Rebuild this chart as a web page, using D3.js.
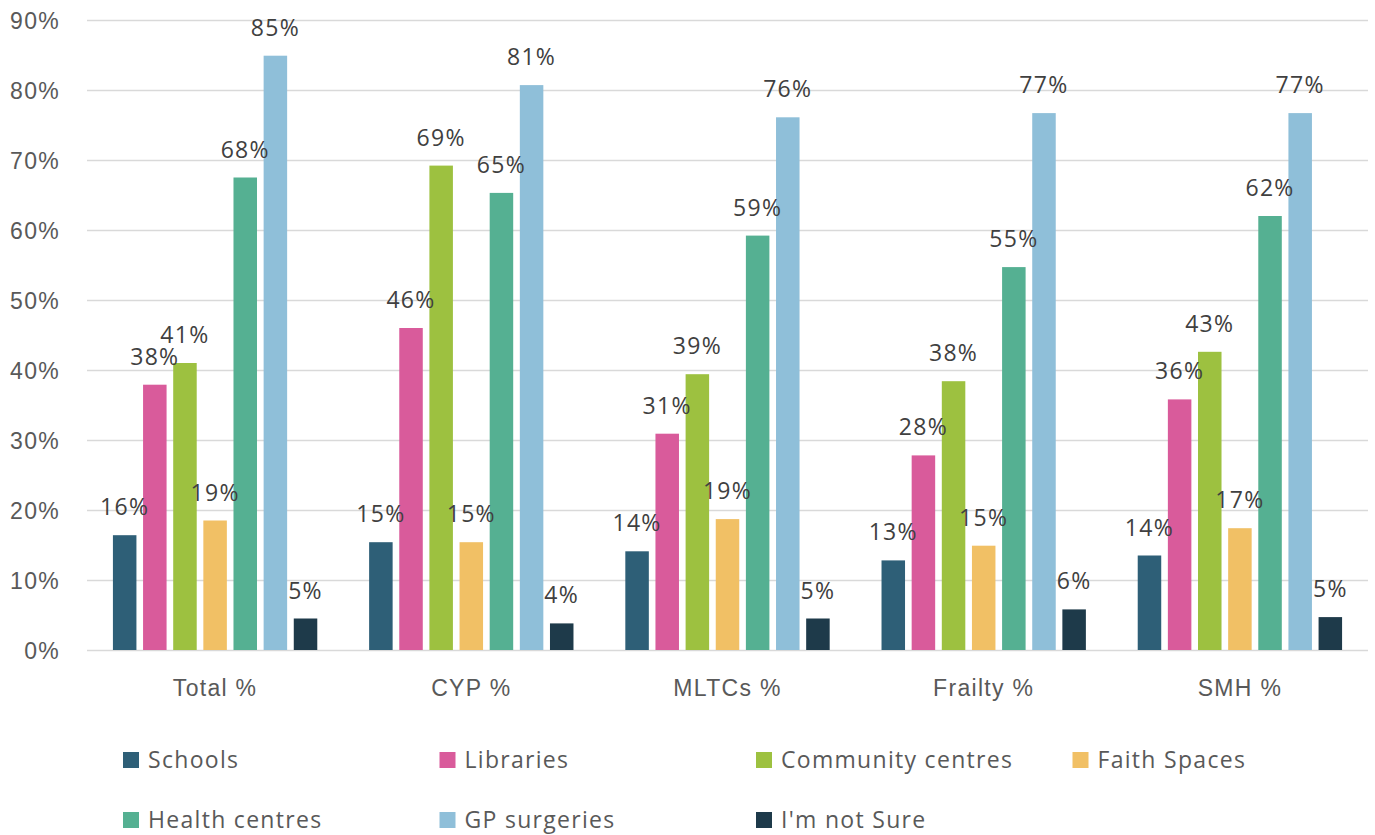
<!DOCTYPE html>
<html>
<head>
<meta charset="utf-8">
<script src="https://cdn.jsdelivr.net/npm/d3@7"></script>
<style>
  html, body { margin: 0; padding: 0; background: #ffffff; }
  svg { display: block; font-family: "Open Sans", "DejaVu Sans", sans-serif; }
  svg text { letter-spacing: 1.3px; }
</style>
</head>
<body>
<svg id="chart" width="1375" height="835"></svg>
<script>
// Groups along the x axis
const categories = ["Total %", "CYP %", "MLTCs %", "Frailty %", "SMH %"];

// Venue types (one bar per venue in each group)
const series = ["Schools", "Libraries", "Community centres", "Faith Spaces",
                "Health centres", "GP surgeries", "I'm not Sure"];

// Percentage of respondents per venue, in category order
const schools     = [16.4, 15.4, 14.1, 12.8, 13.5];
const libraries   = [37.9, 46.0, 30.9, 27.8, 35.8];
const community   = [41.0, 69.2, 39.4, 38.4, 42.6];
const faith       = [18.5, 15.4, 18.7, 14.9, 17.4];
const health      = [67.5, 65.3, 59.2, 54.7, 62.0];
const gp          = [84.9, 80.7, 76.1, 76.7, 76.7];
const notSure     = [4.5, 3.8, 4.5, 5.8, 4.7];

const yTicks = [0, 10, 20, 30, 40, 50, 60, 70, 80, 90];

const colors = ["#2E5F77", "#D95B9B", "#9DC140", "#F1C065",
                "#55B092", "#8FBFD9", "#1E3A4A"];

const seriesValues = [schools, libraries, community, faith, health, gp, notSure];

const svg = d3.select("#chart");
const margin = { left: 87, right: 7, top: 20, bottom: 185 };
const W = 1375, H = 835;
const fontSize = "23px";

const x0 = d3.scaleBand()
  .domain(categories)
  .range([margin.left, W - margin.right])
  .paddingInner(0).paddingOuter(0);

const x1 = d3.scaleBand()
  .domain(series)
  .range([0, x0.bandwidth()])
  .paddingInner(0.22)
  .paddingOuter(0.86);

const y = d3.scaleLinear()
  .domain([0, 90])
  .range([H - margin.bottom, margin.top]);

const color = d3.scaleOrdinal().domain(series).range(colors);

// Gridlines + y tick labels
const yAxis = d3.axisLeft(y)
  .tickValues(yTicks)
  .tickFormat(d => d + "%")
  .tickSize(-(W - margin.right - margin.left))
  .tickPadding(27);

const gy = svg.append("g")
  .attr("transform", `translate(${margin.left},0)`)
  .call(yAxis);
gy.select(".domain").remove();
gy.selectAll(".tick line").attr("stroke", "#D9D9D9").attr("stroke-width", 1.5);
gy.selectAll(".tick text")
  .attr("fill", "#595959")
  .style("font-size", fontSize)
  .attr("dy", "0.35em");

// Category labels
const xAxis = d3.axisBottom(x0).tickSize(0).tickPadding(30);
const gx = svg.append("g")
  .attr("transform", `translate(0,${y(0)})`)
  .call(xAxis);
gx.select(".domain").remove();
gx.selectAll(".tick text")
  .attr("fill", "#595959")
  .style("font-size", fontSize);

// Flattened rows for the bars
const rows = [];
categories.forEach((c, ci) => {
  series.forEach((s, si) => {
    rows.push({ category: c, series: s, value: seriesValues[si][ci] });
  });
});

const groups = svg.append("g").selectAll("g")
  .data(categories)
  .join("g")
  .attr("transform", d => `translate(${x0(d)},0)`);

groups.selectAll("rect")
  .data(c => rows.filter(r => r.category === c))
  .join("rect")
  .attr("x", d => x1(d.series))
  .attr("y", d => y(d.value))
  .attr("width", x1.bandwidth())
  .attr("height", d => y(0) - y(d.value))
  .attr("fill", d => color(d.series));

groups.selectAll("text.value")
  .data(c => rows.filter(r => r.category === c))
  .join("text")
  .attr("class", "value")
  .attr("x", d => x1(d.series) + x1.bandwidth() / 2)
  .attr("y", d => y(d.value) - 20)
  .attr("text-anchor", "middle")
  .attr("fill", "#404040")
  .style("font-size", fontSize)
  .text(d => Math.round(d.value) + "%");

// Legend: 4 columns, 2 rows
const legend = svg.append("g");
const legendItems = legend.selectAll("g")
  .data(series)
  .join("g")
  .attr("transform", (d, i) => `translate(${123 + (i % 4) * 316.5},${752 + Math.floor(i / 4) * 60})`);

legendItems.append("rect")
  .attr("width", 16).attr("height", 16)
  .attr("fill", d => color(d));

legendItems.append("text")
  .attr("x", 25)
  .attr("y", 8)
  .attr("dy", "0.35em")
  .attr("fill", "#595959")
  .style("font-size", fontSize)
  .text(d => d);
</script>
</body>
</html>
